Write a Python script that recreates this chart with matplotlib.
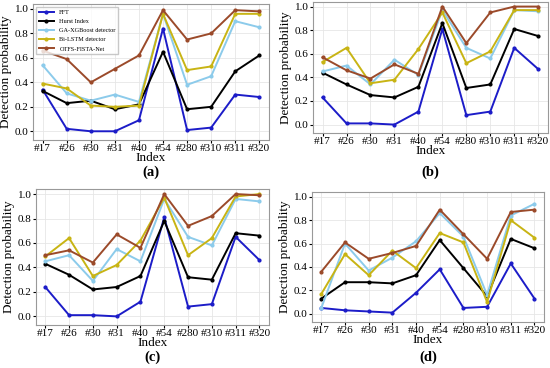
import matplotlib
matplotlib.use("Agg")
import matplotlib.pyplot as plt

plt.rcParams['font.family'] = ['Liberation Serif', 'DejaVu Serif']

index_labels = ['#17', '#26', '#30', '#31', '#40', '#54', '#280', '#310', '#311', '#320']
method_names = ['FFT', 'Hurst Index', 'GA-XGBoost detector', 'Bi-LSTM detector', 'OTFS-FISTA-Net']
method_colors = ['#1c1cc8', 'black', '#8ccbeb', '#c8b414', '#9b4a2a']

# panel (a)
fft_a = [0.34, 0.02, 0.00, 0.00, 0.09, 0.84, 0.01, 0.03, 0.30, 0.28]
hurst_a = [0.33, 0.23, 0.25, 0.18, 0.22, 0.65, 0.18, 0.20, 0.49, 0.62]
xgb_a = [0.54, 0.31, 0.25, 0.30, 0.24, 0.96, 0.38, 0.45, 0.90, 0.85]
lstm_a = [0.39, 0.35, 0.21, 0.20, 0.21, 0.96, 0.50, 0.53, 0.96, 0.96]
otfs_a = [0.66, 0.59, 0.40, 0.51, 0.62, 0.99, 0.75, 0.80, 0.99, 0.98]

# panel (b)
fft_b = [0.23, 0.01, 0.01, 0.00, 0.11, 0.81, 0.08, 0.11, 0.65, 0.47]
hurst_b = [0.44, 0.34, 0.25, 0.23, 0.32, 0.86, 0.31, 0.34, 0.81, 0.75]
xgb_b = [0.45, 0.50, 0.34, 0.55, 0.42, 0.97, 0.65, 0.56, 0.97, 0.96]
lstm_b = [0.53, 0.65, 0.35, 0.38, 0.64, 0.95, 0.52, 0.62, 0.97, 0.97]
otfs_b = [0.57, 0.46, 0.39, 0.51, 0.43, 1.00, 0.69, 0.95, 1.00, 1.00]

# panel (c)
fft_c = [0.24, 0.01, 0.01, 0.00, 0.12, 0.81, 0.08, 0.10, 0.65, 0.46]
hurst_c = [0.43, 0.34, 0.22, 0.24, 0.33, 0.78, 0.32, 0.30, 0.68, 0.66]
xgb_c = [0.45, 0.50, 0.29, 0.55, 0.45, 0.96, 0.65, 0.58, 0.96, 0.94]
lstm_c = [0.49, 0.64, 0.33, 0.42, 0.62, 0.97, 0.50, 0.64, 0.98, 1.00]
otfs_c = [0.50, 0.54, 0.44, 0.67, 0.56, 1.00, 0.74, 0.82, 1.00, 0.99]

# panel (d)
fft_d = [0.05, 0.03, 0.02, 0.01, 0.18, 0.38, 0.05, 0.06, 0.43, 0.13]
hurst_d = [0.13, 0.27, 0.27, 0.26, 0.33, 0.63, 0.39, 0.15, 0.64, 0.56]
xgb_d = [0.05, 0.60, 0.37, 0.48, 0.62, 0.86, 0.66, 0.16, 0.84, 0.94]
lstm_d = [0.17, 0.51, 0.33, 0.54, 0.39, 0.69, 0.61, 0.10, 0.80, 0.65]
otfs_d = [0.36, 0.61, 0.47, 0.52, 0.58, 0.89, 0.68, 0.47, 0.87, 0.89]

# tag, series, axes rect, distance of the (x) tag below the axes in pixels
panels = [
    ('(a)', [fft_a, hurst_a, xgb_a, lstm_a, otfs_a], [0.060, 0.620, 0.429, 0.369], 32),
    ('(b)', [fft_b, hurst_b, xgb_b, lstm_b, otfs_b], [0.569, 0.639, 0.427, 0.356], 39),
    ('(c)', [fft_c, hurst_c, xgb_c, lstm_c, otfs_c], [0.065, 0.117, 0.424, 0.369], 32),
    ('(d)', [fft_d, hurst_d, xgb_d, lstm_d, otfs_d], [0.567, 0.125, 0.422, 0.353], 35),
]

fig = plt.figure(figsize=(5.5, 3.68), dpi=100)

for k, (tag, series, rect, dy) in enumerate(panels):
    ax = fig.add_axes(rect)
    x = list(range(len(index_labels)))
    for vals, name, col in zip(series, method_names, method_colors):
        ax.plot(x, vals, color=col, marker='o', markersize=2, linewidth=1.4, label=name)
    ax.set_xlim(-0.4, 9.4)
    ax.set_ylim(-0.07, 1.04)
    ax.set_xticks(x)
    ax.set_xticklabels(index_labels)
    ax.set_yticks([0.0, 0.2, 0.4, 0.6, 0.8, 1.0])
    ax.tick_params(labelsize=8, length=2, pad=1)
    ax.grid(True, color='#e6e6e6', linewidth=0.6)
    for s in ax.spines.values():
        s.set_color('#999999')
        s.set_linewidth(0.8)
    ax.set_xlabel('Index', fontsize=9.5, labelpad=-1)
    ax.set_ylabel('Detection probability', fontsize=9.5, labelpad=2)
    ax.annotate(tag, xy=(0.5, 0), xycoords='axes fraction', xytext=(0, -dy),
                textcoords='offset pixels', ha='center', va='center',
                fontsize=10.5, fontweight='bold')
    if k == 0:
        ax.legend(loc='upper left', fontsize=4.5, frameon=True, handlelength=2.5,
                  borderpad=0.4, labelspacing=0.6, edgecolor='#bbbbbb', fancybox=False)

fig.savefig('out.png', dpi=100)
